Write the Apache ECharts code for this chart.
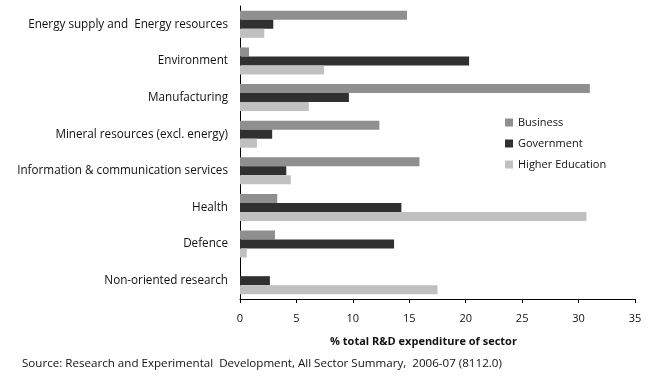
<!DOCTYPE html>
<html><head><meta charset="utf-8">
<script src="https://cdn.jsdelivr.net/npm/echarts@6/dist/echarts.min.js"></script>
<style>html,body{margin:0;padding:0;background:#fff}#c{width:659px;height:382px}</style>
</head><body><div id="c"></div>
<script>
var categories = ["Energy supply and  Energy resources","Environment","Manufacturing","Mineral resources (excl. energy)","Information & communication services","Health","Defence","Non-oriented research"];
var business = [14.8, 0.8, 31.0, 12.35, 15.9, 3.3, 3.1, 0];
var government = [2.95, 20.3, 9.65, 2.85, 4.1, 14.3, 13.65, 2.65];
var higherEducation = [2.15, 7.45, 6.1, 1.5, 4.5, 30.7, 0.6, 17.5];
var xTicks = [0, 5, 10, 15, 20, 25, 30, 35];

var font = "'Open Sans', sans-serif";
var chart = echarts.init(document.getElementById('c'), null, {renderer: 'canvas'});
function s(name, data, color) {
  return {name: name, type: 'bar', data: data, barWidth: 9, barGap: '0%',
    itemStyle: {color: color}, animation: false};
}
chart.setOption({
  animation: false,
  backgroundColor: '#fff',
  grid: {left: 240, right: 24, top: 6, bottom: 83, containLabel: false},
  legend: {orient: 'vertical', left: 500, top: 112, itemWidth: 8, itemHeight: 8, itemGap: 10,
    icon: 'rect', textStyle: {fontFamily: font, fontSize: 11, color: '#111'},
    data: ['Business', 'Government', 'Higher Education']},
  xAxis: {type: 'value', min: xTicks[0], max: xTicks[xTicks.length-1], interval: 5,
    axisLine: {show: true, lineStyle: {color: '#000', width: 1}},
    axisTick: {show: true, length: 4, lineStyle: {color: '#000'}},
    splitLine: {show: false},
    axisLabel: {fontFamily: font, fontSize: 11, color: '#111', margin: 14},
    name: '% total R&D expenditure of sector', nameLocation: 'middle', nameGap: 37,
    nameTextStyle: {fontFamily: font, fontSize: 11, fontWeight: 'bold', color: '#111', padding: [0, 28, 0, 0]}},
  yAxis: {type: 'category', data: categories, inverse: true,
    axisLine: {show: true, lineStyle: {color: '#000', width: 1}},
    axisTick: {show: false},
    axisLabel: {fontFamily: font, fontSize: 11.7, color: '#111', margin: 12}},
  graphic: [{type: 'text', left: 22, top: 358,
    style: {text: 'Source: Research and Experimental  Development, All Sector Summary,  2006-07 (8112.0)',
      font: '11.6px ' + font, fill: '#111'}}],
  series: [s('Business', business, '#8f8f8f'), s('Government', government, '#303030'), s('Higher Education', higherEducation, '#c0c0c0')]
});
</script></body></html>
